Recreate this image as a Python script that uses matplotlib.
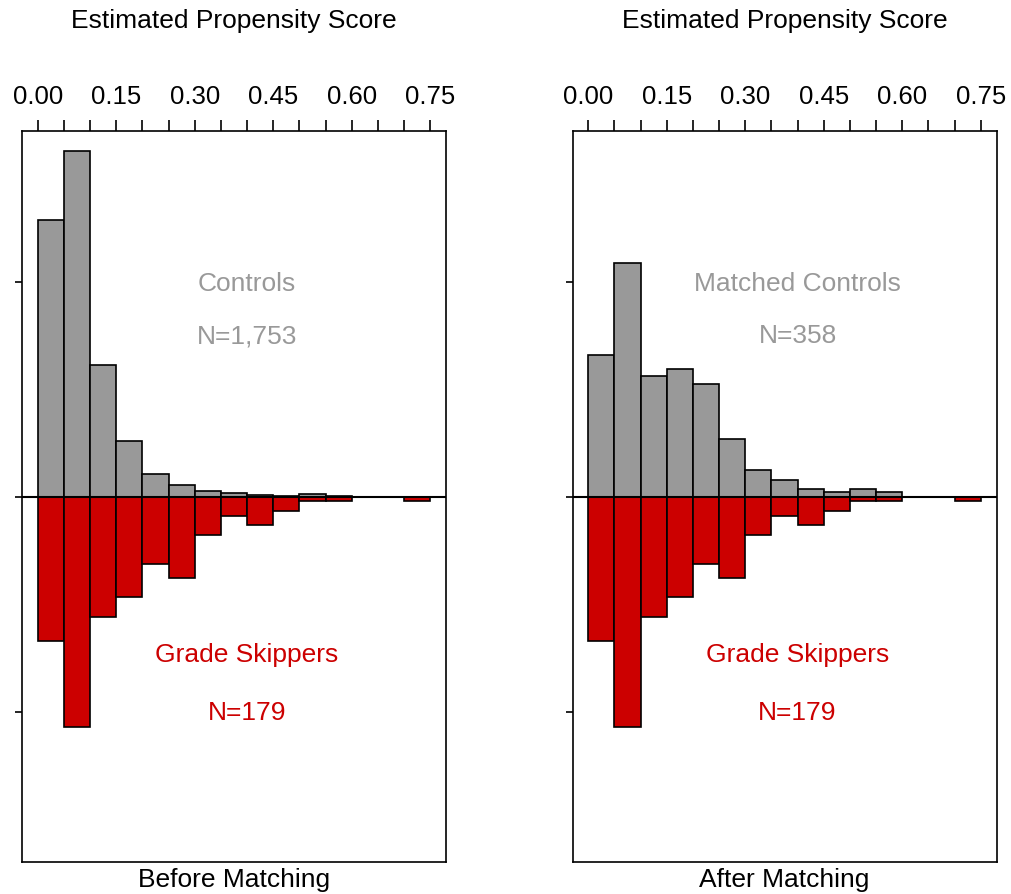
import numpy as np
import matplotlib
matplotlib.use("Agg")
import matplotlib.pyplot as plt

plt.rcParams['font.family'] = ['Liberation Sans', 'DejaVu Sans']

# Data: bin edges (propensity score) and counts per bin
bin_edges = [0.00, 0.05, 0.10, 0.15, 0.20, 0.25, 0.30, 0.35, 0.40, 0.45, 0.50, 0.55, 0.60, 0.65, 0.70, 0.75]
controls_before = [564, 705, 269, 113, 46, 24, 11, 8, 4, 2, 5, 2, 0, 0, 0]
controls_after = [59, 97, 50, 53, 47, 24, 11, 7, 3, 2, 3, 2, 0, 0, 0]
skippers = [30, 48, 25, 21, 14, 17, 8, 4, 6, 3, 1, 1, 0, 0, 1]
tick_values = [0.00, 0.05, 0.10, 0.15, 0.20, 0.25, 0.30, 0.35, 0.40, 0.45, 0.50, 0.55, 0.60, 0.65, 0.70, 0.75]
tick_labels = ["0.00", "", "", "0.15", "", "", "0.30", "", "", "0.45", "", "", "0.60", "", "", "0.75"]
panel_titles = ["Before Matching", "After Matching"]
control_labels = ["Controls", "Matched Controls"]
control_n = ["N=1,753", "N=358"]
skipper_label = "Grade Skippers"
skipper_n = "N=179"

GRAY = "#999999"
RED = "#CC0000"
FS = 19
W, H = 1011, 894
fig = plt.figure(figsize=(W / 100, H / 100), dpi=100)

edges = np.array(bin_edges)
width = np.diff(edges)
panels = [(22, controls_before), (572.5, controls_after)]
for i, (left_px, ctrl) in enumerate(panels):
    ax = fig.add_axes([left_px / W, (H - 862) / H, 424 / W, (862 - 131) / H])
    ctrl = np.array(ctrl, dtype=float)
    sk = np.array(skippers, dtype=float)
    dens_c = ctrl / (ctrl.sum() * width)
    dens_s = sk / (sk.sum() * width)
    mc = ctrl > 0
    ms = sk > 0
    ax.bar(edges[:-1][mc], dens_c[mc], width=width[mc], align='edge',
           color=GRAY, edgecolor='black', linewidth=1.2, zorder=2)
    ax.bar(edges[:-1][ms], -dens_s[ms], width=width[ms], align='edge',
           color=RED, edgecolor='black', linewidth=1.2, zorder=2)
    ax.axhline(0, color='black', linewidth=1.5, zorder=3)
    ax.set_xlim(-0.03, 0.78)
    ax.set_ylim(-8.5, 8.5)
    ax.xaxis.tick_top()
    ax.set_xticks(tick_values)
    ax.set_xticklabels(tick_labels, fontsize=18.5)
    ax.tick_params(axis='x', length=8, width=1.2, pad=8, color='black')
    ax.set_yticks([-5, 0, 5])
    ax.set_yticklabels([])
    ax.tick_params(axis='y', length=5, width=1.2)
    for s in ax.spines.values():
        s.set_linewidth(1.2)
    ax.text(0.4, 4.77, control_labels[i], color=GRAY, fontsize=FS, ha='center', va='baseline')
    ax.text(0.4, 3.56, control_n[i], color=GRAY, fontsize=FS, ha='center', va='baseline')
    ax.text(0.4, -3.86, skipper_label, color=RED, fontsize=FS, ha='center', va='baseline')
    ax.text(0.4, -5.19, skipper_n, color=RED, fontsize=FS, ha='center', va='baseline')
    cx = (left_px + 212) / W
    fig.text(cx, 1 - 21 / H, "Estimated Propensity Score", fontsize=FS, ha='center', va='center')
    fig.text(cx, 14 / H, panel_titles[i], fontsize=FS, ha='center', va='center')

fig.savefig("out.png", dpi=100)
